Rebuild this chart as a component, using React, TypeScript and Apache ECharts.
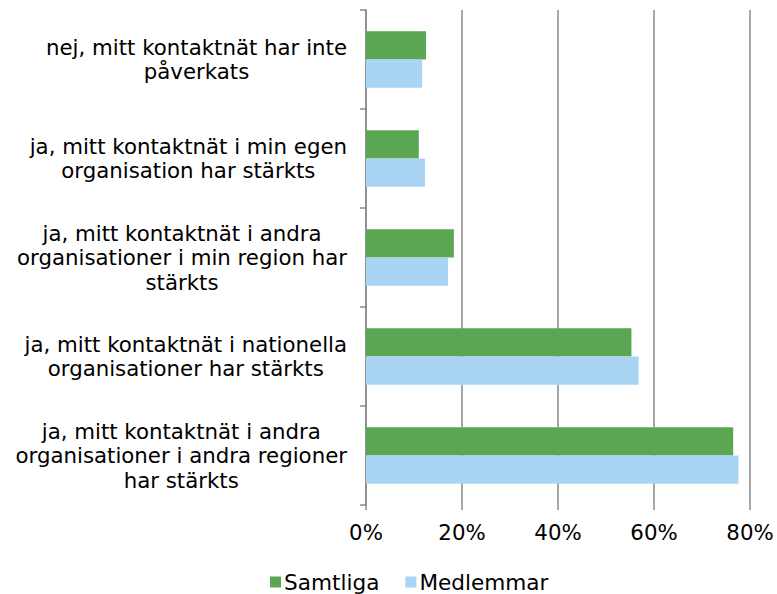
import React, { useEffect, useRef } from "react";
import * as echarts from "echarts";

const categories = [
  "nej, mitt kontaktnät har inte\npåverkats",
  "ja, mitt kontaktnät i min egen\norganisation har stärkts",
  "ja, mitt kontaktnät i andra\norganisationer i min region har\nstärkts",
  "ja, mitt kontaktnät i nationella\norganisationer har stärkts",
  "ja, mitt kontaktnät i andra\norganisationer i andra regioner\nhar stärkts",
];
const samtliga = [0.125, 0.11, 0.183, 0.553, 0.765];
const medlemmar = [0.117, 0.123, 0.171, 0.568, 0.776];
const xTicks = [0, 0.2, 0.4, 0.6, 0.8];

const FONT = "DejaVu Sans, Verdana, sans-serif";
const FS = 21.3;
const LFS = 21.6;

export default function App() {
  const ref = useRef<HTMLDivElement>(null);
  useEffect(() => {
    if (!ref.current) return;
    const chart = echarts.init(ref.current, undefined, { renderer: "svg" });
    chart.setOption({
      animation: false,
      textStyle: { fontFamily: FONT },
      grid: { left: 366, right: 27, top: 10, bottom: 89, containLabel: false },
      legend: {
        left: 265,
        top: 566,
        icon: "rect",
        itemWidth: 11,
        itemHeight: 11,
        itemGap: 26,
        textStyle: { fontSize: LFS, color: "#000", fontFamily: FONT, padding: [0, 0, 0, -2] },
        data: ["Samtliga", "Medlemmar"],
      },
      xAxis: {
        type: "value",
        min: xTicks[0],
        max: xTicks[xTicks.length - 1],
        interval: 0.2,
        axisLine: { show: false },
        axisTick: { show: true, length: 5, lineStyle: { color: "#8a8a8a", width: 1.5 } },
        splitLine: { show: true, lineStyle: { color: "#8a8a8a", width: 1.5 } },
        axisLabel: {
          margin: 17,
          fontSize: FS,
          color: "#000",
          fontFamily: FONT,
          formatter: (v: number) => Math.round(v * 100) + "%",
        },
      },
      yAxis: {
        type: "category",
        inverse: true,
        data: categories,
        axisLine: { show: true, lineStyle: { color: "#8a8a8a", width: 1.5 } },
        axisTick: { show: true, length: 6, lineStyle: { color: "#8a8a8a", width: 1.5 } },
        axisLabel: {
          margin: 19,
          fontSize: FS,
          lineHeight: 24.5,
          color: "#000",
          fontFamily: FONT,
          align: "right",
          formatter: (v: string) =>
            v
              .split("\n")
              .map((l) => "{c|" + l + "}")
              .join("\n"),
          rich: {
            c: { align: "center", fontSize: FS, lineHeight: 24.5, color: "#000", fontFamily: FONT },
          },
        },
      },
      series: [
        {
          name: "Samtliga",
          type: "bar",
          data: samtliga,
          barGap: "0%",
          barCategoryGap: "43%",
          itemStyle: { color: "#5ba653" },
        },
        {
          name: "Medlemmar",
          type: "bar",
          data: medlemmar,
          barGap: "0%",
          barCategoryGap: "43%",
          itemStyle: { color: "#a9d4f4" },
        },
      ],
    });
    return () => chart.dispose();
  }, []);
  return (
    <div
      ref={ref}
      style={{ position: "fixed", left: 0, top: 0, width: 777, height: 594, background: "#fff" }}
    />
  );
}
